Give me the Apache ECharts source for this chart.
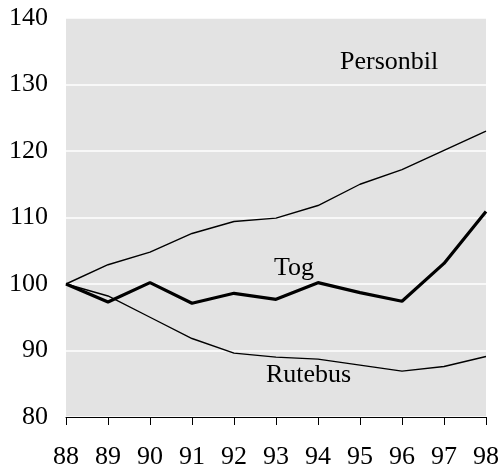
<!DOCTYPE html>
<html>
<head>
<meta charset="utf-8">
<script src="https://cdn.jsdelivr.net/npm/echarts@6/dist/echarts.min.js"></script>
<style>html,body{margin:0;padding:0;background:#fff}#c{width:502px;height:470px}</style>
</head>
<body>
<div id="c"></div>
<script>
var years = ['88','89','90','91','92','93','94','95','96','97','98'];
var personbil = [100, 102.9, 104.8, 107.6, 109.4, 109.9, 111.8, 115.0, 117.2, 120.1, 123.0];
var tog = [100, 97.3, 100.2, 97.1, 98.6, 97.7, 100.2, 98.7, 97.4, 103.1, 110.9];
var rutebus = [100, 98.2, 95.0, 91.8, 89.6, 89.0, 88.7, 87.8, 86.9, 87.6, 89.1];
var yTicks = [80, 90, 100, 110, 120, 130, 140];

var font = 'Liberation Serif';
var chart = echarts.init(document.getElementById('c'));
function line(name, data, w) {
  return {
    name: name, type: 'line', data: data, symbol: 'none',
    lineStyle: {color: '#000', width: w}, silent: true, animation: false
  };
}
chart.setOption({
  animation: false,
  grid: {left: 66, right: 14, top: 18, bottom: 51, show: true, backgroundColor: '#e3e3e3', borderWidth: 0},
  xAxis: {
    type: 'category', data: years, boundaryGap: false,
    axisLine: {lineStyle: {color: '#000', width: 1}},
    axisTick: {show: true, length: 8, lineStyle: {color: '#000'}},
    axisLabel: {color: '#000', fontFamily: font, fontSize: 26, margin: 27},
    splitLine: {show: false}
  },
  yAxis: {
    type: 'value', min: yTicks[0], max: yTicks[yTicks.length - 1], interval: 10,
    axisLine: {show: false}, axisTick: {show: false},
    axisLabel: {color: '#000', fontFamily: font, fontSize: 26, margin: 18},
    splitLine: {lineStyle: {color: '#fff', width: 1.5}}
  },
  graphic: [
    {type: 'text', left: 340, top: 49, style: {text: 'Personbil', font: '26px "Liberation Serif"', fill: '#000'}},
    {type: 'text', left: 274, top: 255, style: {text: 'Tog', font: '26px "Liberation Serif"', fill: '#000'}},
    {type: 'text', left: 266, top: 362, style: {text: 'Rutebus', font: '26px "Liberation Serif"', fill: '#000'}}
  ],
  series: [
    line('Personbil', personbil, 1.4),
    line('Rutebus', rutebus, 1.4),
    line('Tog', tog, 3.2)
  ]
});
</script>
</body>
</html>
